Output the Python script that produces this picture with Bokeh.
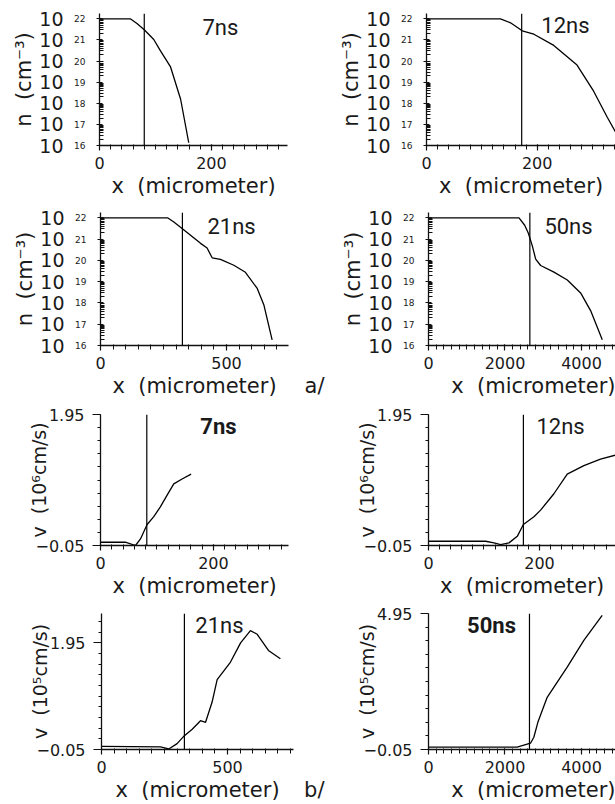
import numpy as np
from bokeh.plotting import figure
from bokeh.layouts import column, row
from bokeh.models import (Range1d, FixedTicker, Label, Span, CustomJSTickFormatter,
                          LogAxis, Title)
from bokeh.embed import file_html
from bokeh.resources import INLINE

# ---------------- data ----------------
# a/ electron density, log10(n / cm^-3) vs x (micrometer)
n7_x = [0, 55, 67, 80, 97, 109, 127, 145, 159.5]
n7_log = [22.0, 22.0, 21.78, 21.48, 21.02, 20.48, 19.72, 18.19, 16.13]
n12_x = [0, 133.7, 151.8, 172.9, 194, 230, 272, 302, 326.6, 341.5]
n12_log = [22.0, 22.0, 21.81, 21.43, 21.27, 20.74, 19.81, 18.57, 17.34, 16.64]
n21_x = [0, 266, 291, 325, 397, 423, 443, 476, 529, 575, 622, 648, 681]
n21_log = [22.0, 22.0, 21.8, 21.49, 20.8, 20.58, 20.12, 20.05, 19.77, 19.44, 18.68, 17.92, 16.26]
n50_x = [0, 2366, 2515, 2611, 2716, 2802, 2932, 3280, 3629, 3977, 4238, 4543]
n50_log = [22.0, 22.0, 21.65, 21.27, 20.67, 20.06, 19.76, 19.45, 19.08, 18.47, 17.64, 16.27]

# b/ velocity vs x (micrometer)
v7_x = [0, 44, 62, 70.8, 82.6, 94.4, 106, 118, 129.8, 144.5, 160.5]
v7_v = [0.0, 0.0, -0.05, 0.05, 0.27, 0.39, 0.54, 0.72, 0.89, 0.965, 1.04]
v12_x = [0, 103, 118, 130, 145, 160, 171, 190, 202, 226, 250, 280, 310, 337]
v12_v = [0.015, 0.015, -0.01, -0.035, -0.01, 0.09, 0.27, 0.39, 0.49, 0.74, 1.04, 1.17, 1.27, 1.33]
v21_x = [0, 234, 267, 300, 329, 360, 393, 413, 439, 459, 512, 552, 591, 618, 664, 710]
v21_v = [0.01, 0.0, -0.04, 0.06, 0.21, 0.33, 0.49, 0.46, 0.84, 1.26, 1.59, 1.95, 2.18, 2.11, 1.80, 1.65]
v50_x = [0, 2318, 2667, 2754, 2859, 3103, 3626, 4061, 4541]
v50_v = [0.035, 0.035, 0.18, 0.40, 0.95, 1.87, 2.98, 3.96, 4.88]

# vertical marker positions (micrometer)
vline_n = [80, 172, 325, 2650]
vline_v = [82, 171, 329, 2640]

times = ["7ns", "12ns", "21ns", "50ns"]
n_exponents = [16, 17, 18, 19, 20, 21, 22]

TXT = "#1a1a1a"
FONT = "DejaVu Sans"
TFONT = "Roboto"
NB = "\u00a0"
XLABEL = "x" + NB + NB + "(micrometer)"


def style_axis(ax):
    ax.axis_line_width = 1.3
    ax.axis_line_color = "#111111"
    ax.major_tick_line_color = "#111111"
    ax.minor_tick_line_color = "#111111"
    ax.major_tick_line_width = 1.2
    ax.minor_tick_line_width = 1.0
    ax.major_label_text_font = FONT
    ax.major_label_text_font_size = "16px"
    ax.major_label_text_color = TXT
    ax.axis_label_text_font = FONT
    ax.axis_label_text_font_size = "21px"
    ax.axis_label_text_font_style = "normal"
    ax.axis_label_text_color = TXT


def base_fig(w, h, left, right, top, bottom, xr, yr, log):
    p = figure(width=w, height=h, min_border_left=left, min_border_right=right,
               min_border_top=top, min_border_bottom=bottom,
               x_range=Range1d(*xr), y_range=Range1d(*yr),
               y_axis_type="log" if log else "linear",
               output_backend="svg", toolbar_location=None)
    p.outline_line_color = None
    p.grid.visible = False
    p.background_fill_color = "white"
    p.border_fill_color = "white"
    style_axis(p.xaxis[0])
    style_axis(p.yaxis[0])
    xa = p.xaxis[0]
    xa.axis_label = XLABEL
    xa.major_tick_in = 1
    xa.major_tick_out = 5
    xa.minor_tick_in = 1
    xa.minor_tick_out = 4
    xa.major_label_standoff = 6
    xa.axis_label_standoff = 2
    return p


def set_panel_tag(p, tag):
    # the tag ("a/" or "b/") shares the line of the x-axis title, far to the left
    p.xaxis[0].axis_label = None
    p.add_layout(Title(text=tag + NB * 19 + XLABEL, align="right", standoff=0,
                       text_font=FONT, text_font_size="21px", text_font_style="normal",
                       text_color=TXT), "below")


def n_panel(w, h, left, right, top, bottom, xmax, xticks, xminor, xs, logs, vx, title, tx, ty):
    p = base_fig(w, h, left, right, top, bottom, (0, xmax), (1e16, 10 ** 22.25), True)
    p.xaxis[0].ticker = FixedTicker(ticks=xticks, minor_ticks=xminor)
    yticker = FixedTicker(ticks=[10.0 ** e for e in n_exponents],
                          minor_ticks=[m * 10.0 ** e for e in range(16, 22) for m in range(2, 10)])
    # inner axis: the line, ticks and the small exponents
    ya = p.yaxis[0]
    ya.ticker = yticker
    ya.formatter = CustomJSTickFormatter(code="return String(Math.round(Math.log10(tick)))")
    ya.major_label_text_font_size = "9px"
    ya.major_label_text_baseline = "bottom"
    ya.major_tick_in = 3
    ya.major_tick_out = 3
    ya.minor_tick_in = 4
    ya.minor_tick_out = 0
    ya.major_label_standoff = 11
    # outer axis: the "10" mantissas and the axis title
    ax2 = LogAxis(ticker=yticker, formatter=CustomJSTickFormatter(code="return '10'"))
    style_axis(ax2)
    ax2.axis_line_color = None
    ax2.major_tick_line_color = None
    ax2.minor_tick_line_color = None
    ax2.major_tick_in = 0
    ax2.major_tick_out = 0
    ax2.minor_tick_in = 0
    ax2.minor_tick_out = 0
    ax2.major_label_text_font_size = "19px"
    ax2.major_label_standoff = 8
    ax2.axis_label = "n" + NB + NB + "(cm\u207b\u00b3)"
    ax2.axis_label_standoff = 0
    p.add_layout(ax2, "left")
    p.line(xs, [10.0 ** v for v in logs], line_color="black", line_width=1.3)
    p.add_layout(Span(location=vx, dimension="height", line_color="black", line_width=1.2))
    p.add_layout(Label(x=tx, y=10.0 ** ty, text=title, text_font=TFONT, text_font_size="22px",
                       text_color=TXT, text_align="center", text_baseline="middle"))
    return p


def v_panel(w, h, left, right, top, bottom, xmax, xticks, xminor, ymax, yticks, yminor,
            ylabel, xs, vs, vx, title, tx, ty, bold=False):
    p = base_fig(w, h, left, right, top, bottom, (0, xmax), (-0.05, ymax), False)
    p.xaxis[0].ticker = FixedTicker(ticks=xticks, minor_ticks=xminor)
    ya = p.yaxis[0]
    ya.ticker = FixedTicker(ticks=yticks, minor_ticks=yminor)
    ya.major_tick_in = 0
    ya.major_tick_out = 8
    ya.minor_tick_in = 0
    ya.minor_tick_out = 3
    ya.major_label_standoff = 8
    ya.axis_label = ylabel
    ya.axis_label_text_font_size = "19px"
    ya.axis_label_standoff = -18
    p.line(xs, vs, line_color="black", line_width=1.3)
    p.add_layout(Span(location=vx, dimension="height", line_color="black", line_width=1.2))
    p.add_layout(Label(x=tx, y=ty, text=title, text_font=TFONT, text_font_size="22px",
                       text_font_style="bold" if bold else "normal",
                       text_color=TXT, text_align="center", text_baseline="middle"))
    return p


x200 = [0, 200, 400]
m20 = list(range(0, 420, 20))
x500 = [0, 500, 1000]
m50 = list(range(0, 1050, 50))
x2000 = [0, 2000, 4000, 6000]
m200 = list(range(0, 6200, 200))

p1 = n_panel(300, 200, 99, 13, 12, 52, 336, x200, m20, n7_x, n7_log, vline_n[0], times[0], 216, 21.59)
p2 = n_panel(315, 200, 126, 0, 13, 54, 341.5, x200, m20, n12_x, n12_log, vline_n[1], times[1], 251, 21.70)
p3 = n_panel(300, 200, 100, 12, 12, 51, 746, x500, m50, n21_x, n21_log, vline_n[2], times[2], 520, 21.59)
p4 = n_panel(315, 200, 128, 0, 8, 54, 4889, x2000, m200, n50_x, n50_log, vline_n[3], times[3], 3660, 21.59)
set_panel_tag(p4, "a/")

yt6 = [-0.05, 1.95]
ym6 = [round(-0.05 + 0.2 * k, 2) for k in range(0, 11)]
yt7 = [-0.05, 1.95]
ym7 = [round(-0.05 + 0.2 * k, 2) for k in range(0, 13)]
yt8 = [-0.05, 4.95]
ym8 = [round(-0.05 + 0.5 * k, 2) for k in range(0, 11)]

lab6 = "v" + NB + NB + "(10\u2076cm/s)"
lab5 = "v" + NB + NB + "(10\u2075cm/s)"

p5 = v_panel(300, 200, 100, 12, 14, 52, 333, x200, m20, 1.95, yt6, ym6, lab6,
             v7_x, v7_v, vline_v[0], times[0], 209, 1.76, bold=True)
p6 = v_panel(315, 200, 128, 0, 13, 54, 337, x200, m20, 1.95, yt6, ym6, lab6,
             v12_x, v12_v, vline_v[1], times[1], 238, 1.76)
p7 = v_panel(300, 204, 101, 7, 12, 54, 762, x500, m50, 2.5, yt7, ym7, lab5,
             v21_x, v21_v, vline_v[2], times[2], 468, 2.27)
p8 = v_panel(315, 204, 128, 0, 13, 55, 4889, x2000, m200, 4.95, yt8, ym8, lab5,
             v50_x, v50_v, vline_v[3], times[3], 1647, 4.5, bold=True)
set_panel_tag(p8, "b/")

layout = column(row(p1, p2), row(p3, p4), row(p5, p6), row(p7, p8))

with open("out.html", "w") as f:
    f.write(file_html(layout, INLINE))
